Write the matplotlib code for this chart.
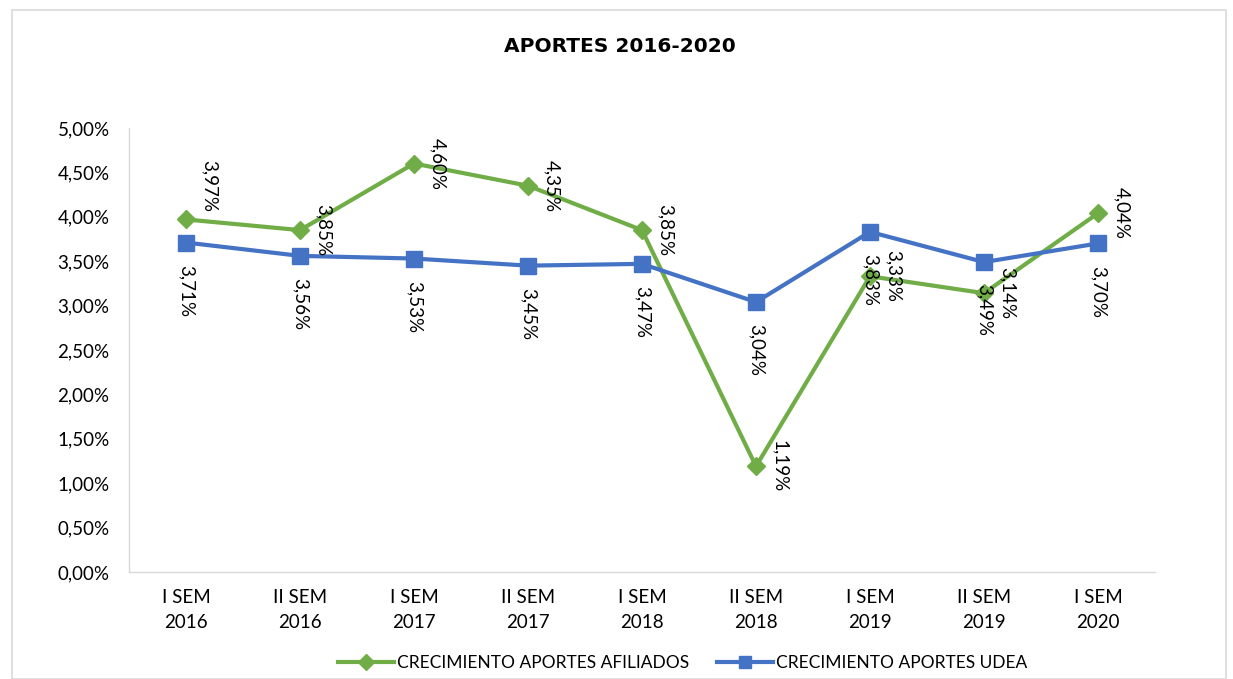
import matplotlib
matplotlib.use("Agg")
import matplotlib.pyplot as plt
from matplotlib.patches import Rectangle
from matplotlib.lines import Line2D

categories = ["I SEM\n2016", "II SEM\n2016", "I SEM\n2017", "II SEM\n2017", "I SEM\n2018",
              "II SEM\n2018", "I SEM\n2019", "II SEM\n2019", "I SEM\n2020"]
afiliados = [3.97, 3.85, 4.60, 4.35, 3.85, 1.19, 3.33, 3.14, 4.04]
udea = [3.71, 3.56, 3.53, 3.45, 3.47, 3.04, 3.83, 3.49, 3.70]
yticks = [0.0, 0.5, 1.0, 1.5, 2.0, 2.5, 3.0, 3.5, 4.0, 4.5, 5.0]

GREEN = "#70AD47"
BLUE = "#4472C4"
FONT = "Lato"

def pct(v):
    return f"{v:.2f}".replace(".", ",") + "%"

fig = plt.figure(figsize=(12.33, 6.79), dpi=100)
ax = fig.add_axes([129/1233, 1-572/679, (1155-129)/1233, (572-128)/679])

x = list(range(len(categories)))
ax.plot(x, afiliados, color=GREEN, lw=3, marker="D", ms=9, zorder=3,
        label="CRECIMIENTO APORTES AFILIADOS")
ax.plot(x, udea, color=BLUE, lw=3, marker="s", ms=11, zorder=3,
        label="CRECIMIENTO APORTES UDEA")

ax.set_xlim(-0.5, len(categories) - 0.5)
ax.set_ylim(0, 5)
ax.set_yticks(yticks)
ax.set_yticklabels([pct(v) for v in yticks], fontsize=13.5, family=FONT)
ax.set_xticks(x)
ax.set_xticklabels(categories, fontsize=13.5, family=FONT, linespacing=1.6)
ax.tick_params(axis="x", length=0, pad=12)
ax.tick_params(axis="y", length=0, pad=14)

for s in ["top", "right"]:
    ax.spines[s].set_visible(False)
ax.spines["left"].set_color("#D9D9D9")
ax.spines["bottom"].set_color("#D9D9D9")
ax.spines["left"].set_linewidth(1)
ax.spines["bottom"].set_linewidth(1)

green_dy = {0: 24}
for i, v in enumerate(afiliados):
    ax.annotate(pct(v), (i, v), xytext=(17, green_dy.get(i, 0)), textcoords="offset points",
                rotation=-90, ha="center", va="center", fontsize=13.5, family=FONT, zorder=4)
for i, v in enumerate(udea):
    ax.annotate(pct(v), (i, v), xytext=(0, -16), textcoords="offset points",
                rotation=-90, ha="center", va="top", fontsize=13.5, family=FONT, zorder=4)

fig.text(620/1233, 1-47/679, "APORTES 2016-2020", ha="center", va="center",
         fontsize=14.5, fontweight="bold", family="DejaVu Sans")

handles = [Line2D([0], [0], color=GREEN, lw=3, marker="D", ms=8),
           Line2D([0], [0], color=BLUE, lw=3, marker="s", ms=9)]
fig.legend(handles, ["CRECIMIENTO APORTES AFILIADOS", "CRECIMIENTO APORTES UDEA"],
           loc="center", bbox_to_anchor=(683/1233, 1-663/679), ncol=2, frameon=False,
           prop={"family": FONT, "size": 12.5}, handlelength=3.2, columnspacing=1.6,
           handletextpad=0.2)

fig.patches.append(Rectangle((12/1233, 0), (1226-12)/1233, 1-10/679, transform=fig.transFigure,
                             fill=False, edgecolor="#D9D9D9", lw=1.2))

fig.savefig("out.png", dpi=100)
